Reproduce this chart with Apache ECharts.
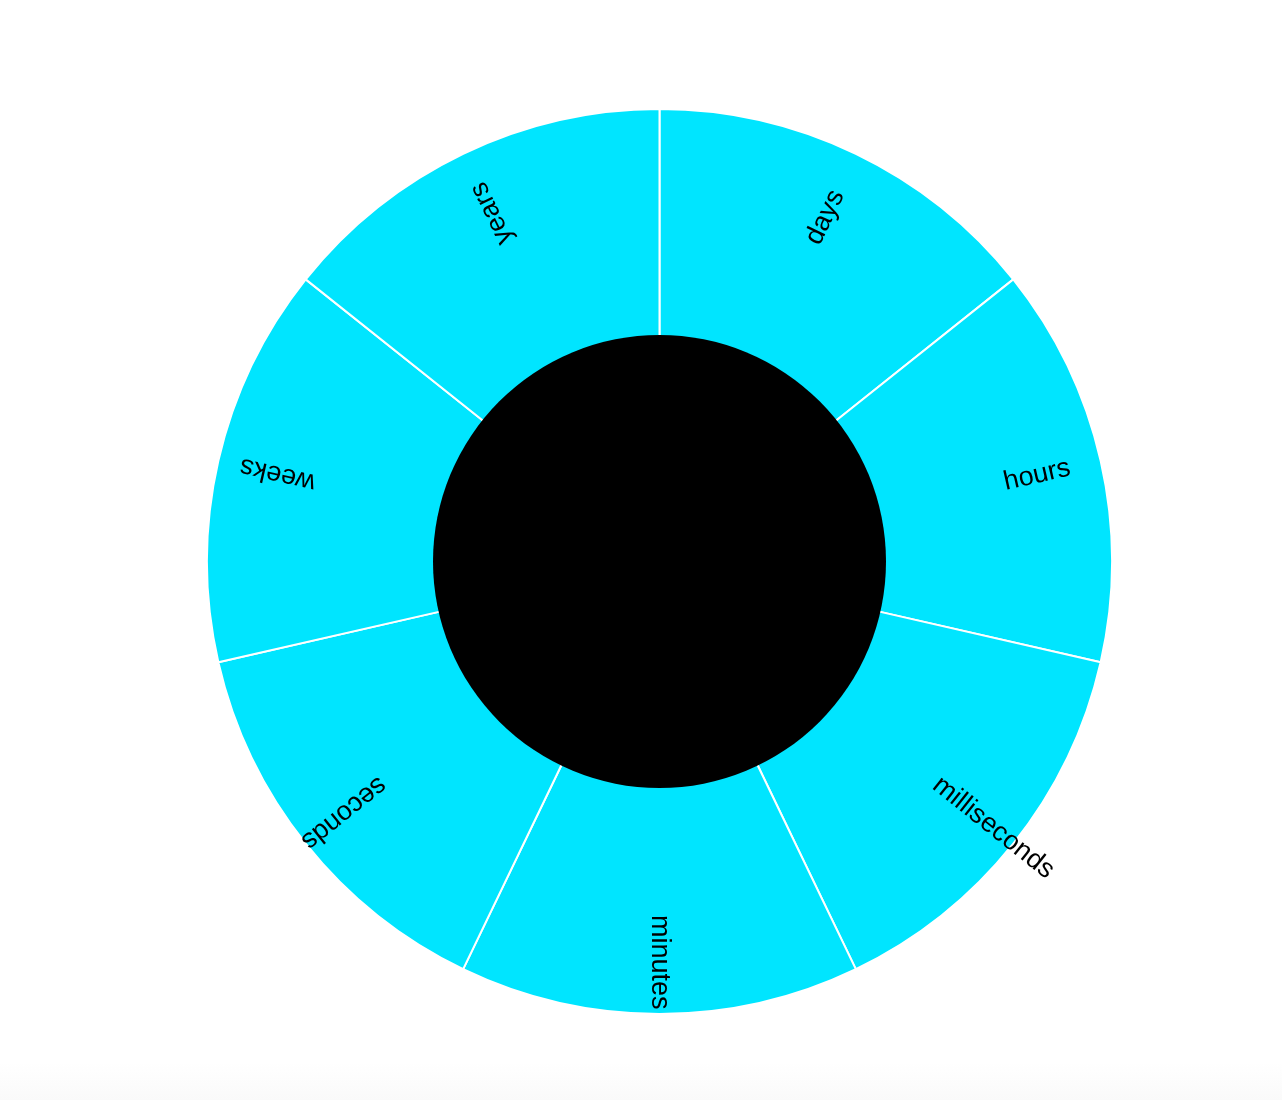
<!DOCTYPE html>
<html>
<head>
<meta charset="utf-8">
<script src="https://cdn.jsdelivr.net/npm/echarts@6/dist/echarts.min.js"></script>
<style>
  html, body { margin: 0; padding: 0; background: #ffffff; }
  #chart { position: relative; z-index: 1; width: 1282px; height: 1100px; }
  #fade { position: absolute; left: 0; top: 1062px; width: 1282px; height: 38px;
          background: linear-gradient(#ffffff, #fafafa); z-index: 0; }
</style>
</head>
<body>
<div id="fade"></div>
<div id="chart"></div>
<script>
const categories = ['days', 'hours', 'milliseconds', 'minutes', 'seconds', 'weeks', 'years'];
const values = [1, 1, 1, 1, 1, 1, 1];
const centerValues = [1];

const chart = echarts.init(document.getElementById('chart'), null, { renderer: 'canvas' });
const cx = 659.5, cy = 561.5;
const ringInner = 222, innerVisible = 226.5, ringOuter = 452.5;
const labelStart = 353.5;

const total = values.reduce((a, b) => a + b, 0);
let acc = 0;
const sunData = categories.map((c, i) => {
  const mid = -90 + (acc + values[i] / 2) / total * 360; // screen angle, clockwise
  acc += values[i];
  const leftSide = mid > 90;
  return {
    name: c,
    value: values[i],
    label: leftSide
      ? { rotate: -mid, align: 'right', distance: ringOuter - labelStart }
      : { rotate: -mid, align: 'left', distance: labelStart - ringInner }
  };
});

chart.setOption({
  backgroundColor: 'transparent',
  animation: false,
  series: [
    {
      type: 'sunburst',
      center: [cx, cy],
      radius: [ringInner, ringOuter],
      startAngle: 90,
      clockwise: true,
      sort: null,
      nodeClick: false,
      emphasis: { disabled: true },
      data: sunData,
      itemStyle: { color: '#00e5ff', borderColor: '#ffffff', borderWidth: 2 },
      label: {
        show: true,
        color: '#000000',
        fontSize: 27,
        padding: [6, 0, 0, 0],
        fontFamily: 'Liberation Sans, Arial, Helvetica, sans-serif'
      },
      z: 2
    },
    {
      type: 'pie',
      center: [cx, cy],
      radius: [0, innerVisible],
      silent: true,
      label: { show: false },
      labelLine: { show: false },
      itemStyle: { color: '#000000', borderWidth: 0 },
      data: centerValues.map(v => ({ value: v, name: '' })),
      z: 5
    }
  ]
});
</script>
</body>
</html>
